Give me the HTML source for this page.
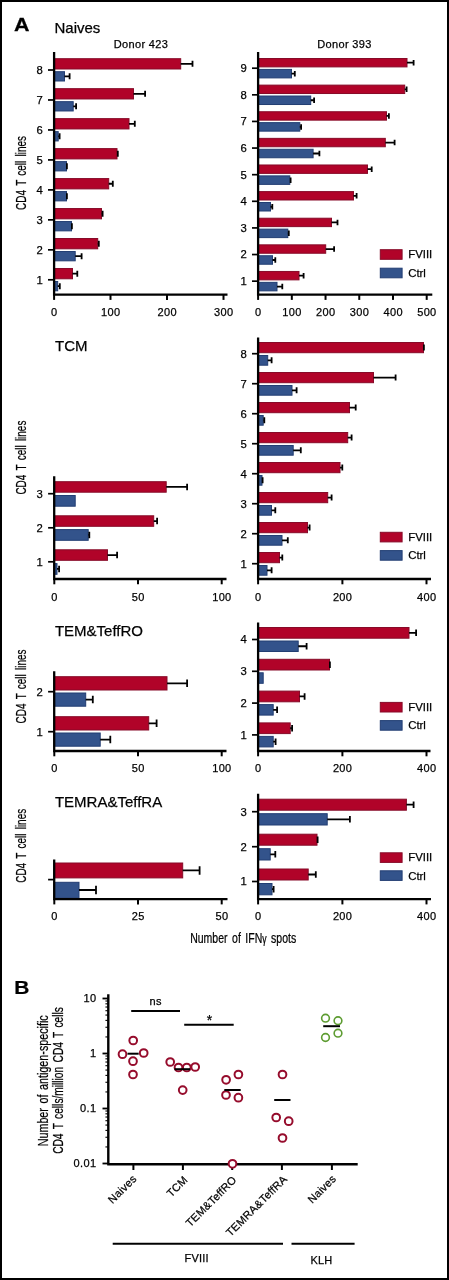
<!DOCTYPE html>
<html><head><meta charset="utf-8"><title>Figure</title>
<style>
html,body{margin:0;padding:0;background:#fff;}
body{width:449px;height:1280px;overflow:hidden;font-family:"Liberation Sans",sans-serif;}
#fig{position:absolute;left:0;top:0;width:449px;height:1280px;box-sizing:border-box;border:2px solid #000;background:#fff;}
svg{position:absolute;left:0;top:0;will-change:transform;opacity:0.999;}
text{font-family:"Liberation Sans",sans-serif;fill:#000;stroke:#000;stroke-width:0.25px;}
</style></head><body>
<div id="fig"></div>
<svg width="449" height="1280" viewBox="0 0 449 1280">
<text transform="translate(14.1,31.4) scale(1.13,1)" font-size="19" font-weight="bold" stroke="#111" stroke-width="0.4">A</text>
<text x="54.5" y="32.7" font-size="15" text-anchor="start" letter-spacing="0" font-weight="normal" >Naives</text>
<text x="141" y="48.2" font-size="11" text-anchor="middle" letter-spacing="0.35" font-weight="normal" >Donor 423</text>
<text x="344.5" y="48.2" font-size="11" text-anchor="middle" letter-spacing="0.35" font-weight="normal" >Donor 393</text>
<text x="55" y="351.4" font-size="15" text-anchor="start" letter-spacing="0" font-weight="normal" >TCM</text>
<text x="54.9" y="636.4" font-size="15" text-anchor="start" letter-spacing="0" font-weight="normal" >TEM&amp;TeffRO</text>
<text x="54.9" y="807" font-size="15" text-anchor="start" letter-spacing="0" font-weight="normal" >TEMRA&amp;TeffRA</text>
<text transform="translate(25.7,172.9) rotate(-90) scale(0.688,1)" font-size="14.5" text-anchor="middle" word-spacing="2.2" stroke="#000" stroke-width="0.35">CD4 T cell lines</text>
<text transform="translate(25.7,457.6) rotate(-90) scale(0.688,1)" font-size="14.5" text-anchor="middle" word-spacing="2.2" stroke="#000" stroke-width="0.35">CD4 T cell lines</text>
<text transform="translate(25.7,686.4) rotate(-90) scale(0.688,1)" font-size="14.5" text-anchor="middle" word-spacing="2.2" stroke="#000" stroke-width="0.35">CD4 T cell lines</text>
<text transform="translate(25.7,845.8) rotate(-90) scale(0.688,1)" font-size="14.5" text-anchor="middle" word-spacing="2.2" stroke="#000" stroke-width="0.35">CD4 T cell lines</text>
<text transform="translate(243.2,942.8) rotate(0) scale(0.725,1)" font-size="14.5" text-anchor="middle" word-spacing="2.2" stroke="#000" stroke-width="0.35">Number of IFN<tspan font-size="12">&#947;</tspan> spots</text>
<rect x="54.1" y="58.7" width="126.60" height="10.30" fill="#b10329" stroke="#870a28" stroke-width="1"/>
<path d="M180.7 63.85H193.4M192.5 60.85V66.85" stroke="#000" stroke-width="1.8" fill="none"/>
<rect x="54.1" y="71.7" width="10.40" height="9.30" fill="#33538b" stroke="#223e73" stroke-width="1"/>
<path d="M64.5 76.35H70.5M69.6 73.35V79.35" stroke="#000" stroke-width="1.8" fill="none"/>
<rect x="54.1" y="88.67" width="79.40" height="10.30" fill="#b10329" stroke="#870a28" stroke-width="1"/>
<path d="M133.5 93.82H146M145.1 90.82V96.82" stroke="#000" stroke-width="1.8" fill="none"/>
<rect x="54.1" y="101.67" width="19.10" height="9.30" fill="#33538b" stroke="#223e73" stroke-width="1"/>
<path d="M73.2 106.32H77M76.1 103.32V109.32" stroke="#000" stroke-width="1.8" fill="none"/>
<rect x="54.1" y="118.64" width="74.90" height="10.30" fill="#b10329" stroke="#870a28" stroke-width="1"/>
<path d="M129.0 123.78999999999999H135.7M134.79999999999998 120.78999999999999V126.78999999999999" stroke="#000" stroke-width="1.8" fill="none"/>
<rect x="54.1" y="131.64" width="4.10" height="9.30" fill="#33538b" stroke="#223e73" stroke-width="1"/>
<path d="M58.2 136.29H60.5M59.6 133.29V139.29" stroke="#000" stroke-width="1.8" fill="none"/>
<rect x="54.1" y="148.60999999999999" width="62.90" height="10.30" fill="#b10329" stroke="#870a28" stroke-width="1"/>
<path d="M117.0 153.76H118.7M117.8 150.76V156.76" stroke="#000" stroke-width="1.8" fill="none"/>
<rect x="54.1" y="161.60999999999999" width="12.40" height="9.30" fill="#33538b" stroke="#223e73" stroke-width="1"/>
<path d="M66.5 166.26H67.8M66.89999999999999 163.26V169.26" stroke="#000" stroke-width="1.8" fill="none"/>
<rect x="54.1" y="178.57999999999998" width="54.60" height="10.30" fill="#b10329" stroke="#870a28" stroke-width="1"/>
<path d="M108.7 183.73H113.7M112.8 180.73V186.73" stroke="#000" stroke-width="1.8" fill="none"/>
<rect x="54.1" y="191.57999999999998" width="12.40" height="9.30" fill="#33538b" stroke="#223e73" stroke-width="1"/>
<path d="M66.5 196.23H67.8M66.89999999999999 193.23V199.23" stroke="#000" stroke-width="1.8" fill="none"/>
<rect x="54.1" y="208.54999999999998" width="47.40" height="10.30" fill="#b10329" stroke="#870a28" stroke-width="1"/>
<path d="M101.5 213.7H103.5M102.6 210.7V216.7" stroke="#000" stroke-width="1.8" fill="none"/>
<rect x="54.1" y="221.54999999999998" width="17.40" height="9.30" fill="#33538b" stroke="#223e73" stroke-width="1"/>
<path d="M71.5 226.2H72.8M71.89999999999999 223.2V229.2" stroke="#000" stroke-width="1.8" fill="none"/>
<rect x="54.1" y="238.51999999999998" width="43.60" height="10.30" fill="#b10329" stroke="#870a28" stroke-width="1"/>
<path d="M97.7 243.67H99.7M98.8 240.67V246.67" stroke="#000" stroke-width="1.8" fill="none"/>
<rect x="54.1" y="251.51999999999998" width="21.10" height="9.30" fill="#33538b" stroke="#223e73" stroke-width="1"/>
<path d="M75.2 256.17H82.5M81.6 253.17000000000002V259.17" stroke="#000" stroke-width="1.8" fill="none"/>
<rect x="54.1" y="268.48999999999995" width="18.40" height="10.30" fill="#b10329" stroke="#870a28" stroke-width="1"/>
<path d="M72.5 273.64H78.2M77.3 270.64V276.64" stroke="#000" stroke-width="1.8" fill="none"/>
<rect x="54.1" y="281.48999999999995" width="3.60" height="9.30" fill="#33538b" stroke="#223e73" stroke-width="1"/>
<path d="M57.7 286.14H60.7M59.800000000000004 283.14V289.14" stroke="#000" stroke-width="1.8" fill="none"/>
<path d="M54.1 52V295.8M53.0 294.6H227.5" stroke="#000" stroke-width="2.3" fill="none"/>
<path d="M54.1 294.6V299.90000000000003" stroke="#000" stroke-width="2"/>
<text x="54.300000000000004" y="316" font-size="11" text-anchor="middle" letter-spacing="0.35" font-weight="normal" >0</text>
<path d="M110.5 294.6V299.90000000000003" stroke="#000" stroke-width="2"/>
<text x="110.7" y="316" font-size="11" text-anchor="middle" letter-spacing="0.35" font-weight="normal" >100</text>
<path d="M167 294.6V299.90000000000003" stroke="#000" stroke-width="2"/>
<text x="167.2" y="316" font-size="11" text-anchor="middle" letter-spacing="0.35" font-weight="normal" >200</text>
<path d="M223.5 294.6V299.90000000000003" stroke="#000" stroke-width="2"/>
<text x="223.7" y="316" font-size="11" text-anchor="middle" letter-spacing="0.35" font-weight="normal" >300</text>
<path d="M48.0 70.0H54.1" stroke="#000" stroke-width="1.7"/>
<text x="42.7" y="73.95" font-size="11.3" text-anchor="end" letter-spacing="0" font-weight="normal" >8</text>
<path d="M48.0 99.97H54.1" stroke="#000" stroke-width="1.7"/>
<text x="42.7" y="103.92" font-size="11.3" text-anchor="end" letter-spacing="0" font-weight="normal" >7</text>
<path d="M48.0 129.94H54.1" stroke="#000" stroke-width="1.7"/>
<text x="42.7" y="133.89" font-size="11.3" text-anchor="end" letter-spacing="0" font-weight="normal" >6</text>
<path d="M48.0 159.91H54.1" stroke="#000" stroke-width="1.7"/>
<text x="42.7" y="163.85999999999999" font-size="11.3" text-anchor="end" letter-spacing="0" font-weight="normal" >5</text>
<path d="M48.0 189.88H54.1" stroke="#000" stroke-width="1.7"/>
<text x="42.7" y="193.82999999999998" font-size="11.3" text-anchor="end" letter-spacing="0" font-weight="normal" >4</text>
<path d="M48.0 219.85H54.1" stroke="#000" stroke-width="1.7"/>
<text x="42.7" y="223.79999999999998" font-size="11.3" text-anchor="end" letter-spacing="0" font-weight="normal" >3</text>
<path d="M48.0 249.82H54.1" stroke="#000" stroke-width="1.7"/>
<text x="42.7" y="253.76999999999998" font-size="11.3" text-anchor="end" letter-spacing="0" font-weight="normal" >2</text>
<path d="M48.0 279.78999999999996H54.1" stroke="#000" stroke-width="1.7"/>
<text x="42.7" y="283.73999999999995" font-size="11.3" text-anchor="end" letter-spacing="0" font-weight="normal" >1</text>
<rect x="258.1" y="58.5" width="148.90" height="8.40" fill="#b10329" stroke="#870a28" stroke-width="1"/>
<path d="M407.0 62.7H414.5M413.6 59.95V65.45" stroke="#000" stroke-width="1.8" fill="none"/>
<rect x="258.1" y="69.4" width="33.40" height="8.50" fill="#33538b" stroke="#223e73" stroke-width="1"/>
<path d="M291.5 73.65H295.7M294.8 70.9V76.4" stroke="#000" stroke-width="1.8" fill="none"/>
<rect x="258.1" y="85.12" width="146.60" height="8.40" fill="#b10329" stroke="#870a28" stroke-width="1"/>
<path d="M404.7 89.32000000000001H407.5M406.6 86.57000000000001V92.07000000000001" stroke="#000" stroke-width="1.8" fill="none"/>
<rect x="258.1" y="96.02000000000001" width="52.60" height="8.50" fill="#33538b" stroke="#223e73" stroke-width="1"/>
<path d="M310.7 100.27000000000001H315M314.1 97.52000000000001V103.02000000000001" stroke="#000" stroke-width="1.8" fill="none"/>
<rect x="258.1" y="111.74" width="128.40" height="8.40" fill="#b10329" stroke="#870a28" stroke-width="1"/>
<path d="M386.5 115.94H389.8M388.90000000000003 113.19V118.69" stroke="#000" stroke-width="1.8" fill="none"/>
<rect x="258.1" y="122.64" width="41.70" height="8.50" fill="#33538b" stroke="#223e73" stroke-width="1"/>
<path d="M299.8 126.89H302M301.1 124.14V129.64" stroke="#000" stroke-width="1.8" fill="none"/>
<rect x="258.1" y="138.36" width="127.20" height="8.40" fill="#b10329" stroke="#870a28" stroke-width="1"/>
<path d="M385.3 142.56H395.5M394.6 139.81V145.31" stroke="#000" stroke-width="1.8" fill="none"/>
<rect x="258.1" y="149.26" width="55.00" height="8.50" fill="#33538b" stroke="#223e73" stroke-width="1"/>
<path d="M313.1 153.51H320.3M319.40000000000003 150.76V156.26" stroke="#000" stroke-width="1.8" fill="none"/>
<rect x="258.1" y="164.98000000000002" width="109.40" height="8.40" fill="#b10329" stroke="#870a28" stroke-width="1"/>
<path d="M367.5 169.18H372.6M371.70000000000005 166.43V171.93" stroke="#000" stroke-width="1.8" fill="none"/>
<rect x="258.1" y="175.88" width="31.70" height="8.50" fill="#33538b" stroke="#223e73" stroke-width="1"/>
<path d="M289.8 180.13H291.5M290.6 177.38V182.88" stroke="#000" stroke-width="1.8" fill="none"/>
<rect x="258.1" y="191.60000000000002" width="95.40" height="8.40" fill="#b10329" stroke="#870a28" stroke-width="1"/>
<path d="M353.5 195.8H357.5M356.6 193.05V198.55" stroke="#000" stroke-width="1.8" fill="none"/>
<rect x="258.1" y="202.5" width="12.40" height="8.50" fill="#33538b" stroke="#223e73" stroke-width="1"/>
<path d="M270.5 206.75H273.2M272.3 204.0V209.5" stroke="#000" stroke-width="1.8" fill="none"/>
<rect x="258.1" y="218.22000000000003" width="73.40" height="8.40" fill="#b10329" stroke="#870a28" stroke-width="1"/>
<path d="M331.5 222.42000000000002H338.4M337.5 219.67000000000002V225.17000000000002" stroke="#000" stroke-width="1.8" fill="none"/>
<rect x="258.1" y="229.12" width="29.70" height="8.50" fill="#33538b" stroke="#223e73" stroke-width="1"/>
<path d="M287.8 233.37H289.7M288.8 230.62V236.12" stroke="#000" stroke-width="1.8" fill="none"/>
<rect x="258.1" y="244.84000000000003" width="67.60" height="8.40" fill="#b10329" stroke="#870a28" stroke-width="1"/>
<path d="M325.7 249.04000000000002H335M334.1 246.29000000000002V251.79000000000002" stroke="#000" stroke-width="1.8" fill="none"/>
<rect x="258.1" y="255.74" width="14.40" height="8.50" fill="#33538b" stroke="#223e73" stroke-width="1"/>
<path d="M272.5 259.99H276.2M275.3 257.24V262.74" stroke="#000" stroke-width="1.8" fill="none"/>
<rect x="258.1" y="271.46000000000004" width="40.90" height="8.40" fill="#b10329" stroke="#870a28" stroke-width="1"/>
<path d="M299.0 275.66H304.5M303.6 272.91V278.41" stroke="#000" stroke-width="1.8" fill="none"/>
<rect x="258.1" y="282.36" width="18.90" height="8.50" fill="#33538b" stroke="#223e73" stroke-width="1"/>
<path d="M277.0 286.61H283.2M282.3 283.86V289.36" stroke="#000" stroke-width="1.8" fill="none"/>
<path d="M258.1 52V295.8M257.0 294.6H432.3" stroke="#000" stroke-width="2.3" fill="none"/>
<path d="M258.1 294.6V299.90000000000003" stroke="#000" stroke-width="2"/>
<text x="258.3" y="316" font-size="11" text-anchor="middle" letter-spacing="0.35" font-weight="normal" >0</text>
<path d="M291.82000000000005 294.6V299.90000000000003" stroke="#000" stroke-width="2"/>
<text x="292.02000000000004" y="316" font-size="11" text-anchor="middle" letter-spacing="0.35" font-weight="normal" >100</text>
<path d="M325.54 294.6V299.90000000000003" stroke="#000" stroke-width="2"/>
<text x="325.74" y="316" font-size="11" text-anchor="middle" letter-spacing="0.35" font-weight="normal" >200</text>
<path d="M359.26 294.6V299.90000000000003" stroke="#000" stroke-width="2"/>
<text x="359.46" y="316" font-size="11" text-anchor="middle" letter-spacing="0.35" font-weight="normal" >300</text>
<path d="M392.98 294.6V299.90000000000003" stroke="#000" stroke-width="2"/>
<text x="393.18" y="316" font-size="11" text-anchor="middle" letter-spacing="0.35" font-weight="normal" >400</text>
<path d="M426.70000000000005 294.6V299.90000000000003" stroke="#000" stroke-width="2"/>
<text x="426.90000000000003" y="316" font-size="11" text-anchor="middle" letter-spacing="0.35" font-weight="normal" >500</text>
<path d="M252.00000000000003 68.2H258.1" stroke="#000" stroke-width="1.7"/>
<text x="246.70000000000002" y="72.15" font-size="11.3" text-anchor="end" letter-spacing="0" font-weight="normal" >9</text>
<path d="M252.00000000000003 94.82000000000001H258.1" stroke="#000" stroke-width="1.7"/>
<text x="246.70000000000002" y="98.77000000000001" font-size="11.3" text-anchor="end" letter-spacing="0" font-weight="normal" >8</text>
<path d="M252.00000000000003 121.44H258.1" stroke="#000" stroke-width="1.7"/>
<text x="246.70000000000002" y="125.39" font-size="11.3" text-anchor="end" letter-spacing="0" font-weight="normal" >7</text>
<path d="M252.00000000000003 148.06H258.1" stroke="#000" stroke-width="1.7"/>
<text x="246.70000000000002" y="152.01" font-size="11.3" text-anchor="end" letter-spacing="0" font-weight="normal" >6</text>
<path d="M252.00000000000003 174.68H258.1" stroke="#000" stroke-width="1.7"/>
<text x="246.70000000000002" y="178.63" font-size="11.3" text-anchor="end" letter-spacing="0" font-weight="normal" >5</text>
<path d="M252.00000000000003 201.3H258.1" stroke="#000" stroke-width="1.7"/>
<text x="246.70000000000002" y="205.25" font-size="11.3" text-anchor="end" letter-spacing="0" font-weight="normal" >4</text>
<path d="M252.00000000000003 227.92000000000002H258.1" stroke="#000" stroke-width="1.7"/>
<text x="246.70000000000002" y="231.87" font-size="11.3" text-anchor="end" letter-spacing="0" font-weight="normal" >3</text>
<path d="M252.00000000000003 254.54000000000002H258.1" stroke="#000" stroke-width="1.7"/>
<text x="246.70000000000002" y="258.49" font-size="11.3" text-anchor="end" letter-spacing="0" font-weight="normal" >2</text>
<path d="M252.00000000000003 281.16H258.1" stroke="#000" stroke-width="1.7"/>
<text x="246.70000000000002" y="285.11" font-size="11.3" text-anchor="end" letter-spacing="0" font-weight="normal" >1</text>
<rect x="380.3" y="249.7" width="21.8" height="9.6" fill="#b10329" stroke="#870a28"/>
<rect x="380.3" y="268.2" width="21.8" height="9.6" fill="#33538b" stroke="#223e73"/>
<text x="408.2" y="258.09999999999997" font-size="11.4" text-anchor="start" letter-spacing="0" font-weight="normal" >FVIII</text>
<text x="408.2" y="276.9" font-size="11.4" text-anchor="start" letter-spacing="0" font-weight="normal" >Ctrl</text>
<rect x="54.2" y="481.7" width="112.00" height="10.50" fill="#b10329" stroke="#870a28" stroke-width="1"/>
<path d="M166.2 486.95H188M187.1 483.7V490.2" stroke="#000" stroke-width="1.8" fill="none"/>
<rect x="54.2" y="495.5" width="21.00" height="10.70" fill="#33538b" stroke="#223e73" stroke-width="1"/>
<rect x="54.2" y="515.8" width="99.50" height="10.50" fill="#b10329" stroke="#870a28" stroke-width="1"/>
<path d="M153.7 521.05H158M157.1 517.8V524.3" stroke="#000" stroke-width="1.8" fill="none"/>
<rect x="54.2" y="529.5999999999999" width="34.00" height="10.70" fill="#33538b" stroke="#223e73" stroke-width="1"/>
<path d="M88.2 534.9499999999999H90.2M89.3 531.6999999999999V538.1999999999999" stroke="#000" stroke-width="1.8" fill="none"/>
<rect x="54.2" y="549.8" width="53.30" height="10.50" fill="#b10329" stroke="#870a28" stroke-width="1"/>
<path d="M107.5 555.05H118M117.1 551.8V558.3" stroke="#000" stroke-width="1.8" fill="none"/>
<rect x="54.2" y="563.5999999999999" width="2.80" height="10.70" fill="#33538b" stroke="#223e73" stroke-width="1"/>
<path d="M57.0 568.9499999999999H60M59.1 565.6999999999999V572.1999999999999" stroke="#000" stroke-width="1.8" fill="none"/>
<path d="M54.2 476.2V580.2M53.1 579.0H226.5" stroke="#000" stroke-width="2.3" fill="none"/>
<path d="M54.3 579.0V584.3" stroke="#000" stroke-width="2"/>
<text x="54.5" y="600.6" font-size="11" text-anchor="middle" letter-spacing="0.35" font-weight="normal" >0</text>
<path d="M138 579.0V584.3" stroke="#000" stroke-width="2"/>
<text x="138.2" y="600.6" font-size="11" text-anchor="middle" letter-spacing="0.35" font-weight="normal" >50</text>
<path d="M221.7 579.0V584.3" stroke="#000" stroke-width="2"/>
<text x="221.89999999999998" y="600.6" font-size="11" text-anchor="middle" letter-spacing="0.35" font-weight="normal" >100</text>
<path d="M48.1 493.7H54.2" stroke="#000" stroke-width="1.7"/>
<text x="42.800000000000004" y="497.65" font-size="11.3" text-anchor="end" letter-spacing="0" font-weight="normal" >3</text>
<path d="M48.1 527.8H54.2" stroke="#000" stroke-width="1.7"/>
<text x="42.800000000000004" y="531.75" font-size="11.3" text-anchor="end" letter-spacing="0" font-weight="normal" >2</text>
<path d="M48.1 561.8H54.2" stroke="#000" stroke-width="1.7"/>
<text x="42.800000000000004" y="565.75" font-size="11.3" text-anchor="end" letter-spacing="0" font-weight="normal" >1</text>
<rect x="258.1" y="342.5" width="165.40" height="10.20" fill="#b10329" stroke="#870a28" stroke-width="1"/>
<path d="M423.5 347.59999999999997H424.8M423.90000000000003 344.59999999999997V350.59999999999997" stroke="#000" stroke-width="1.8" fill="none"/>
<rect x="258.1" y="355.5" width="9.60" height="9.70" fill="#33538b" stroke="#223e73" stroke-width="1"/>
<path d="M267.7 360.34999999999997H272.5M271.6 357.34999999999997V363.34999999999997" stroke="#000" stroke-width="1.8" fill="none"/>
<rect x="258.1" y="372.5" width="115.40" height="10.20" fill="#b10329" stroke="#870a28" stroke-width="1"/>
<path d="M373.5 377.59999999999997H396.5M395.6 374.59999999999997V380.59999999999997" stroke="#000" stroke-width="1.8" fill="none"/>
<rect x="258.1" y="385.5" width="33.90" height="9.70" fill="#33538b" stroke="#223e73" stroke-width="1"/>
<path d="M292.0 390.34999999999997H297.5M296.6 387.34999999999997V393.34999999999997" stroke="#000" stroke-width="1.8" fill="none"/>
<rect x="258.1" y="402.5" width="91.40" height="10.20" fill="#b10329" stroke="#870a28" stroke-width="1"/>
<path d="M349.5 407.59999999999997H356.6M355.70000000000005 404.59999999999997V410.59999999999997" stroke="#000" stroke-width="1.8" fill="none"/>
<rect x="258.1" y="415.5" width="5.10" height="9.70" fill="#33538b" stroke="#223e73" stroke-width="1"/>
<path d="M263.2 420.34999999999997H265.2M264.3 417.34999999999997V423.34999999999997" stroke="#000" stroke-width="1.8" fill="none"/>
<rect x="258.1" y="432.5" width="89.60" height="10.20" fill="#b10329" stroke="#870a28" stroke-width="1"/>
<path d="M347.7 437.59999999999997H352.5M351.6 434.59999999999997V440.59999999999997" stroke="#000" stroke-width="1.8" fill="none"/>
<rect x="258.1" y="445.5" width="35.10" height="9.70" fill="#33538b" stroke="#223e73" stroke-width="1"/>
<path d="M293.2 450.34999999999997H301.7M300.8 447.34999999999997V453.34999999999997" stroke="#000" stroke-width="1.8" fill="none"/>
<rect x="258.1" y="462.5" width="81.90" height="10.20" fill="#b10329" stroke="#870a28" stroke-width="1"/>
<path d="M340.0 467.59999999999997H343.2M342.3 464.59999999999997V470.59999999999997" stroke="#000" stroke-width="1.8" fill="none"/>
<rect x="258.1" y="475.5" width="3.90" height="9.70" fill="#33538b" stroke="#223e73" stroke-width="1"/>
<path d="M262.0 480.34999999999997H263.5M262.6 477.34999999999997V483.34999999999997" stroke="#000" stroke-width="1.8" fill="none"/>
<rect x="258.1" y="492.5" width="69.60" height="10.20" fill="#b10329" stroke="#870a28" stroke-width="1"/>
<path d="M327.7 497.59999999999997H332.5M331.6 494.59999999999997V500.59999999999997" stroke="#000" stroke-width="1.8" fill="none"/>
<rect x="258.1" y="505.5" width="13.40" height="9.70" fill="#33538b" stroke="#223e73" stroke-width="1"/>
<path d="M271.5 510.34999999999997H276.2M275.3 507.34999999999997V513.3499999999999" stroke="#000" stroke-width="1.8" fill="none"/>
<rect x="258.1" y="522.5" width="49.40" height="10.20" fill="#b10329" stroke="#870a28" stroke-width="1"/>
<path d="M307.5 527.6H310.5M309.6 524.6V530.6" stroke="#000" stroke-width="1.8" fill="none"/>
<rect x="258.1" y="535.5" width="23.90" height="9.70" fill="#33538b" stroke="#223e73" stroke-width="1"/>
<path d="M282.0 540.35H288.7M287.8 537.35V543.35" stroke="#000" stroke-width="1.8" fill="none"/>
<rect x="258.1" y="552.5" width="21.40" height="10.20" fill="#b10329" stroke="#870a28" stroke-width="1"/>
<path d="M279.5 557.6H283.2M282.3 554.6V560.6" stroke="#000" stroke-width="1.8" fill="none"/>
<rect x="258.1" y="565.5" width="8.90" height="9.70" fill="#33538b" stroke="#223e73" stroke-width="1"/>
<path d="M267.0 570.35H272.5M271.6 567.35V573.35" stroke="#000" stroke-width="1.8" fill="none"/>
<path d="M258.1 337.5V580.2M257.0 579.0H431" stroke="#000" stroke-width="2.3" fill="none"/>
<path d="M258.1 579.0V584.3" stroke="#000" stroke-width="2"/>
<text x="258.3" y="600.6" font-size="11" text-anchor="middle" letter-spacing="0.35" font-weight="normal" >0</text>
<path d="M342.4 579.0V584.3" stroke="#000" stroke-width="2"/>
<text x="342.59999999999997" y="600.6" font-size="11" text-anchor="middle" letter-spacing="0.35" font-weight="normal" >200</text>
<path d="M426.5 579.0V584.3" stroke="#000" stroke-width="2"/>
<text x="426.7" y="600.6" font-size="11" text-anchor="middle" letter-spacing="0.35" font-weight="normal" >400</text>
<path d="M252.00000000000003 353.7H258.1" stroke="#000" stroke-width="1.7"/>
<text x="246.70000000000002" y="357.65" font-size="11.3" text-anchor="end" letter-spacing="0" font-weight="normal" >8</text>
<path d="M252.00000000000003 383.7H258.1" stroke="#000" stroke-width="1.7"/>
<text x="246.70000000000002" y="387.65" font-size="11.3" text-anchor="end" letter-spacing="0" font-weight="normal" >7</text>
<path d="M252.00000000000003 413.7H258.1" stroke="#000" stroke-width="1.7"/>
<text x="246.70000000000002" y="417.65" font-size="11.3" text-anchor="end" letter-spacing="0" font-weight="normal" >6</text>
<path d="M252.00000000000003 443.7H258.1" stroke="#000" stroke-width="1.7"/>
<text x="246.70000000000002" y="447.65" font-size="11.3" text-anchor="end" letter-spacing="0" font-weight="normal" >5</text>
<path d="M252.00000000000003 473.7H258.1" stroke="#000" stroke-width="1.7"/>
<text x="246.70000000000002" y="477.65" font-size="11.3" text-anchor="end" letter-spacing="0" font-weight="normal" >4</text>
<path d="M252.00000000000003 503.7H258.1" stroke="#000" stroke-width="1.7"/>
<text x="246.70000000000002" y="507.65" font-size="11.3" text-anchor="end" letter-spacing="0" font-weight="normal" >3</text>
<path d="M252.00000000000003 533.7H258.1" stroke="#000" stroke-width="1.7"/>
<text x="246.70000000000002" y="537.6500000000001" font-size="11.3" text-anchor="end" letter-spacing="0" font-weight="normal" >2</text>
<path d="M252.00000000000003 563.7H258.1" stroke="#000" stroke-width="1.7"/>
<text x="246.70000000000002" y="567.6500000000001" font-size="11.3" text-anchor="end" letter-spacing="0" font-weight="normal" >1</text>
<rect x="380.3" y="532.3" width="21.8" height="9.6" fill="#b10329" stroke="#870a28"/>
<rect x="380.3" y="550.6" width="21.8" height="9.6" fill="#33538b" stroke="#223e73"/>
<text x="408.2" y="540.6999999999999" font-size="11.4" text-anchor="start" letter-spacing="0" font-weight="normal" >FVIII</text>
<text x="408.2" y="559.3000000000001" font-size="11.4" text-anchor="start" letter-spacing="0" font-weight="normal" >Ctrl</text>
<rect x="54.2" y="676.7" width="112.80" height="13.30" fill="#b10329" stroke="#870a28" stroke-width="1"/>
<path d="M167.0 683.35H188M187.1 679.6V687.1" stroke="#000" stroke-width="1.8" fill="none"/>
<rect x="54.2" y="693.0" width="31.50" height="13.20" fill="#33538b" stroke="#223e73" stroke-width="1"/>
<path d="M85.7 699.6H93.7M92.8 695.85V703.35" stroke="#000" stroke-width="1.8" fill="none"/>
<rect x="54.2" y="716.7" width="94.50" height="13.30" fill="#b10329" stroke="#870a28" stroke-width="1"/>
<path d="M148.7 723.35H157.5M156.6 719.6V727.1" stroke="#000" stroke-width="1.8" fill="none"/>
<rect x="54.2" y="733.0" width="46.00" height="13.20" fill="#33538b" stroke="#223e73" stroke-width="1"/>
<path d="M100.2 739.6H111.2M110.3 735.85V743.35" stroke="#000" stroke-width="1.8" fill="none"/>
<path d="M54.2 671.2V752.2M53.1 751.0H226.5" stroke="#000" stroke-width="2.3" fill="none"/>
<path d="M54.3 751.0V756.3" stroke="#000" stroke-width="2"/>
<text x="54.5" y="771.7" font-size="11" text-anchor="middle" letter-spacing="0.35" font-weight="normal" >0</text>
<path d="M138 751.0V756.3" stroke="#000" stroke-width="2"/>
<text x="138.2" y="771.7" font-size="11" text-anchor="middle" letter-spacing="0.35" font-weight="normal" >50</text>
<path d="M221.7 751.0V756.3" stroke="#000" stroke-width="2"/>
<text x="221.89999999999998" y="771.7" font-size="11" text-anchor="middle" letter-spacing="0.35" font-weight="normal" >100</text>
<path d="M48.1 691.7H54.2" stroke="#000" stroke-width="1.7"/>
<text x="42.800000000000004" y="695.6500000000001" font-size="11.3" text-anchor="end" letter-spacing="0" font-weight="normal" >2</text>
<path d="M48.1 731.7H54.2" stroke="#000" stroke-width="1.7"/>
<text x="42.800000000000004" y="735.6500000000001" font-size="11.3" text-anchor="end" letter-spacing="0" font-weight="normal" >1</text>
<rect x="258.1" y="627.5" width="150.90" height="10.70" fill="#b10329" stroke="#870a28" stroke-width="1"/>
<path d="M409.0 632.85H417M416.1 629.6V636.1" stroke="#000" stroke-width="1.8" fill="none"/>
<rect x="258.1" y="641.0" width="40.10" height="10.50" fill="#33538b" stroke="#223e73" stroke-width="1"/>
<path d="M298.2 646.25H307.5M306.6 643.0V649.5" stroke="#000" stroke-width="1.8" fill="none"/>
<rect x="258.1" y="659.3" width="71.40" height="10.70" fill="#b10329" stroke="#870a28" stroke-width="1"/>
<path d="M329.5 664.65H330.8M329.90000000000003 661.4V667.9" stroke="#000" stroke-width="1.8" fill="none"/>
<rect x="258.1" y="672.8" width="5.10" height="10.50" fill="#33538b" stroke="#223e73" stroke-width="1"/>
<rect x="258.1" y="691.1" width="41.40" height="10.70" fill="#b10329" stroke="#870a28" stroke-width="1"/>
<path d="M299.5 696.45H305.5M304.6 693.2V699.7" stroke="#000" stroke-width="1.8" fill="none"/>
<rect x="258.1" y="704.6" width="15.10" height="10.50" fill="#33538b" stroke="#223e73" stroke-width="1"/>
<path d="M273.2 709.85H278M277.1 706.6V713.1" stroke="#000" stroke-width="1.8" fill="none"/>
<rect x="258.1" y="722.9" width="32.10" height="10.70" fill="#b10329" stroke="#870a28" stroke-width="1"/>
<path d="M290.2 728.25H293M292.1 725.0V731.5" stroke="#000" stroke-width="1.8" fill="none"/>
<rect x="258.1" y="736.4" width="15.10" height="10.50" fill="#33538b" stroke="#223e73" stroke-width="1"/>
<path d="M273.2 741.65H276.5M275.6 738.4V744.9" stroke="#000" stroke-width="1.8" fill="none"/>
<path d="M258.1 622.5V752.2M257.0 751.0H430.5" stroke="#000" stroke-width="2.3" fill="none"/>
<path d="M258.1 751.0V756.3" stroke="#000" stroke-width="2"/>
<text x="258.3" y="771.7" font-size="11" text-anchor="middle" letter-spacing="0.35" font-weight="normal" >0</text>
<path d="M342.4 751.0V756.3" stroke="#000" stroke-width="2"/>
<text x="342.59999999999997" y="771.7" font-size="11" text-anchor="middle" letter-spacing="0.35" font-weight="normal" >200</text>
<path d="M426.5 751.0V756.3" stroke="#000" stroke-width="2"/>
<text x="426.7" y="771.7" font-size="11" text-anchor="middle" letter-spacing="0.35" font-weight="normal" >400</text>
<path d="M252.00000000000003 639.5H258.1" stroke="#000" stroke-width="1.7"/>
<text x="246.70000000000002" y="643.45" font-size="11.3" text-anchor="end" letter-spacing="0" font-weight="normal" >4</text>
<path d="M252.00000000000003 671.3H258.1" stroke="#000" stroke-width="1.7"/>
<text x="246.70000000000002" y="675.25" font-size="11.3" text-anchor="end" letter-spacing="0" font-weight="normal" >3</text>
<path d="M252.00000000000003 703.1H258.1" stroke="#000" stroke-width="1.7"/>
<text x="246.70000000000002" y="707.0500000000001" font-size="11.3" text-anchor="end" letter-spacing="0" font-weight="normal" >2</text>
<path d="M252.00000000000003 734.9H258.1" stroke="#000" stroke-width="1.7"/>
<text x="246.70000000000002" y="738.85" font-size="11.3" text-anchor="end" letter-spacing="0" font-weight="normal" >1</text>
<rect x="380.3" y="702.4" width="21.8" height="9.6" fill="#b10329" stroke="#870a28"/>
<rect x="380.3" y="720.6" width="21.8" height="9.6" fill="#33538b" stroke="#223e73"/>
<text x="408.2" y="710.8" font-size="11.4" text-anchor="start" letter-spacing="0" font-weight="normal" >FVIII</text>
<text x="408.2" y="729.3000000000001" font-size="11.4" text-anchor="start" letter-spacing="0" font-weight="normal" >Ctrl</text>
<rect x="54.2" y="863.0" width="128.50" height="14.90" fill="#b10329" stroke="#870a28" stroke-width="1"/>
<path d="M182.7 870.45H200.5M199.6 866.2V874.7" stroke="#000" stroke-width="1.8" fill="none"/>
<rect x="54.2" y="882.3000000000001" width="24.80" height="15.40" fill="#33538b" stroke="#223e73" stroke-width="1"/>
<path d="M79.0 890.0H96.9M96.0 885.75V894.25" stroke="#000" stroke-width="1.8" fill="none"/>
<path d="M54.2 859.5V900.3000000000001M53.1 899.1H227.5" stroke="#000" stroke-width="2.3" fill="none"/>
<path d="M54.3 899.1V904.4" stroke="#000" stroke-width="2"/>
<text x="54.5" y="920" font-size="11" text-anchor="middle" letter-spacing="0.35" font-weight="normal" >0</text>
<path d="M138 899.1V904.4" stroke="#000" stroke-width="2"/>
<text x="138.2" y="920" font-size="11" text-anchor="middle" letter-spacing="0.35" font-weight="normal" >25</text>
<path d="M221.7 899.1V904.4" stroke="#000" stroke-width="2"/>
<text x="221.89999999999998" y="920" font-size="11" text-anchor="middle" letter-spacing="0.35" font-weight="normal" >50</text>
<path d="M48.1 879.6H54.2" stroke="#000" stroke-width="1.7"/>
<rect x="258.1" y="799.2" width="148.30" height="11.00" fill="#b10329" stroke="#870a28" stroke-width="1"/>
<path d="M406.4 804.7H414.5M413.6 801.45V807.95" stroke="#000" stroke-width="1.8" fill="none"/>
<rect x="258.1" y="813.7" width="69.10" height="11.30" fill="#33538b" stroke="#223e73" stroke-width="1"/>
<path d="M327.2 819.35H350.8M349.90000000000003 816.1V822.6" stroke="#000" stroke-width="1.8" fill="none"/>
<rect x="258.1" y="834.2" width="58.90" height="11.00" fill="#b10329" stroke="#870a28" stroke-width="1"/>
<path d="M317.0 839.7H318.5M317.6 836.45V842.95" stroke="#000" stroke-width="1.8" fill="none"/>
<rect x="258.1" y="848.7" width="12.10" height="11.30" fill="#33538b" stroke="#223e73" stroke-width="1"/>
<path d="M270.2 854.35H276.2M275.3 851.1V857.6" stroke="#000" stroke-width="1.8" fill="none"/>
<rect x="258.1" y="869.0" width="50.10" height="11.00" fill="#b10329" stroke="#870a28" stroke-width="1"/>
<path d="M308.2 874.5H316.7M315.8 871.25V877.75" stroke="#000" stroke-width="1.8" fill="none"/>
<rect x="258.1" y="883.5" width="13.90" height="11.30" fill="#33538b" stroke="#223e73" stroke-width="1"/>
<path d="M272.0 889.15H274.5M273.6 885.9V892.4" stroke="#000" stroke-width="1.8" fill="none"/>
<path d="M258.1 793.7V900.3000000000001M257.0 899.1H431" stroke="#000" stroke-width="2.3" fill="none"/>
<path d="M258.1 899.1V904.4" stroke="#000" stroke-width="2"/>
<text x="258.3" y="920" font-size="11" text-anchor="middle" letter-spacing="0.35" font-weight="normal" >0</text>
<path d="M342.4 899.1V904.4" stroke="#000" stroke-width="2"/>
<text x="342.59999999999997" y="920" font-size="11" text-anchor="middle" letter-spacing="0.35" font-weight="normal" >200</text>
<path d="M426.5 899.1V904.4" stroke="#000" stroke-width="2"/>
<text x="426.7" y="920" font-size="11" text-anchor="middle" letter-spacing="0.35" font-weight="normal" >400</text>
<path d="M252.00000000000003 811.7H258.1" stroke="#000" stroke-width="1.7"/>
<text x="246.70000000000002" y="815.6500000000001" font-size="11.3" text-anchor="end" letter-spacing="0" font-weight="normal" >3</text>
<path d="M252.00000000000003 846.7H258.1" stroke="#000" stroke-width="1.7"/>
<text x="246.70000000000002" y="850.6500000000001" font-size="11.3" text-anchor="end" letter-spacing="0" font-weight="normal" >2</text>
<path d="M252.00000000000003 881.5H258.1" stroke="#000" stroke-width="1.7"/>
<text x="246.70000000000002" y="885.45" font-size="11.3" text-anchor="end" letter-spacing="0" font-weight="normal" >1</text>
<rect x="380.3" y="852.8" width="21.8" height="9.6" fill="#b10329" stroke="#870a28"/>
<rect x="380.3" y="870.8" width="21.8" height="9.6" fill="#33538b" stroke="#223e73"/>
<text x="408.2" y="861.1999999999999" font-size="11.4" text-anchor="start" letter-spacing="0" font-weight="normal" >FVIII</text>
<text x="408.2" y="879.5" font-size="11.4" text-anchor="start" letter-spacing="0" font-weight="normal" >Ctrl</text>
<text transform="translate(14.2,993.5) scale(1.1,1)" font-size="19" font-weight="bold" stroke="#111" stroke-width="0.4">B</text>
<text transform="translate(48.0,1080.8) rotate(-90) scale(0.741,1)" font-size="14.5" text-anchor="middle" word-spacing="2.2" stroke="#000" stroke-width="0.35">Number of antigen-specific</text>
<text transform="translate(62.6,1080.5) rotate(-90) scale(0.703,1)" font-size="14.5" text-anchor="middle" word-spacing="2.2" stroke="#000" stroke-width="0.35">CD4 T cells/million CD4 T cells</text>
<path d="M108.3 994.2V1164.6M107.2 1164.3H357.7" stroke="#000" stroke-width="2.4" fill="none"/>
<path d="M102.5 998.5H108.3" stroke="#000" stroke-width="1.8"/>
<text x="96.4" y="1002.2" font-size="11" text-anchor="end" letter-spacing="0.35" font-weight="normal" >10</text>
<path d="M102.5 1053.5H108.3" stroke="#000" stroke-width="1.8"/>
<text x="96.4" y="1057.2" font-size="11" text-anchor="end" letter-spacing="0.35" font-weight="normal" >1</text>
<path d="M102.5 1108.5H108.3" stroke="#000" stroke-width="1.8"/>
<text x="96.4" y="1112.2" font-size="11" text-anchor="end" letter-spacing="0.35" font-weight="normal" >0.1</text>
<path d="M102.5 1163.5H108.3" stroke="#000" stroke-width="1.8"/>
<text x="96.4" y="1167.2" font-size="11" text-anchor="end" letter-spacing="0.35" font-weight="normal" >0.01</text>
<path d="M105.39999999999999 1036.94H108.3" stroke="#000" stroke-width="1.1"/>
<path d="M105.39999999999999 1027.26H108.3" stroke="#000" stroke-width="1.1"/>
<path d="M105.39999999999999 1020.39H108.3" stroke="#000" stroke-width="1.1"/>
<path d="M105.39999999999999 1015.06H108.3" stroke="#000" stroke-width="1.1"/>
<path d="M105.39999999999999 1010.70H108.3" stroke="#000" stroke-width="1.1"/>
<path d="M105.39999999999999 1007.02H108.3" stroke="#000" stroke-width="1.1"/>
<path d="M105.39999999999999 1003.83H108.3" stroke="#000" stroke-width="1.1"/>
<path d="M105.39999999999999 1001.02H108.3" stroke="#000" stroke-width="1.1"/>
<path d="M105.39999999999999 1091.94H108.3" stroke="#000" stroke-width="1.1"/>
<path d="M105.39999999999999 1082.26H108.3" stroke="#000" stroke-width="1.1"/>
<path d="M105.39999999999999 1075.39H108.3" stroke="#000" stroke-width="1.1"/>
<path d="M105.39999999999999 1070.06H108.3" stroke="#000" stroke-width="1.1"/>
<path d="M105.39999999999999 1065.70H108.3" stroke="#000" stroke-width="1.1"/>
<path d="M105.39999999999999 1062.02H108.3" stroke="#000" stroke-width="1.1"/>
<path d="M105.39999999999999 1058.83H108.3" stroke="#000" stroke-width="1.1"/>
<path d="M105.39999999999999 1056.02H108.3" stroke="#000" stroke-width="1.1"/>
<path d="M105.39999999999999 1146.94H108.3" stroke="#000" stroke-width="1.1"/>
<path d="M105.39999999999999 1137.26H108.3" stroke="#000" stroke-width="1.1"/>
<path d="M105.39999999999999 1130.39H108.3" stroke="#000" stroke-width="1.1"/>
<path d="M105.39999999999999 1125.06H108.3" stroke="#000" stroke-width="1.1"/>
<path d="M105.39999999999999 1120.70H108.3" stroke="#000" stroke-width="1.1"/>
<path d="M105.39999999999999 1117.02H108.3" stroke="#000" stroke-width="1.1"/>
<path d="M105.39999999999999 1113.83H108.3" stroke="#000" stroke-width="1.1"/>
<path d="M105.39999999999999 1111.02H108.3" stroke="#000" stroke-width="1.1"/>
<path d="M133.4 1164V1170" stroke="#000" stroke-width="2"/>
<path d="M182.9 1164V1170" stroke="#000" stroke-width="2"/>
<path d="M232.2 1164V1170" stroke="#000" stroke-width="2"/>
<path d="M281.9 1164V1170" stroke="#000" stroke-width="2"/>
<path d="M331.9 1164V1170" stroke="#000" stroke-width="2"/>
<circle cx="133.2" cy="1040.5" r="3.85" fill="#fff" stroke="#960c2c" stroke-width="2.0"/>
<circle cx="122.5" cy="1054.2" r="3.85" fill="#fff" stroke="#960c2c" stroke-width="2.0"/>
<circle cx="143.7" cy="1053" r="3.85" fill="#fff" stroke="#960c2c" stroke-width="2.0"/>
<circle cx="133" cy="1061.2" r="3.85" fill="#fff" stroke="#960c2c" stroke-width="2.0"/>
<circle cx="133" cy="1074.5" r="3.85" fill="#fff" stroke="#960c2c" stroke-width="2.0"/>
<circle cx="170.2" cy="1062" r="3.85" fill="#fff" stroke="#960c2c" stroke-width="2.0"/>
<circle cx="178.5" cy="1067.5" r="3.85" fill="#fff" stroke="#960c2c" stroke-width="2.0"/>
<circle cx="186.8" cy="1067.5" r="3.85" fill="#fff" stroke="#960c2c" stroke-width="2.0"/>
<circle cx="195.2" cy="1067" r="3.85" fill="#fff" stroke="#960c2c" stroke-width="2.0"/>
<circle cx="182.7" cy="1090.1" r="3.85" fill="#fff" stroke="#960c2c" stroke-width="2.0"/>
<circle cx="238.4" cy="1074.5" r="3.85" fill="#fff" stroke="#960c2c" stroke-width="2.0"/>
<circle cx="226.1" cy="1079.8" r="3.85" fill="#fff" stroke="#960c2c" stroke-width="2.0"/>
<circle cx="226" cy="1095" r="3.85" fill="#fff" stroke="#960c2c" stroke-width="2.0"/>
<circle cx="238.4" cy="1097.7" r="3.85" fill="#fff" stroke="#960c2c" stroke-width="2.0"/>
<circle cx="232.5" cy="1163.8" r="3.85" fill="#fff" stroke="#960c2c" stroke-width="2.0"/>
<circle cx="282.5" cy="1074.5" r="3.85" fill="#fff" stroke="#960c2c" stroke-width="2.0"/>
<circle cx="276.2" cy="1117.5" r="3.85" fill="#fff" stroke="#960c2c" stroke-width="2.0"/>
<circle cx="288.7" cy="1121.2" r="3.85" fill="#fff" stroke="#960c2c" stroke-width="2.0"/>
<circle cx="282.5" cy="1138" r="3.85" fill="#fff" stroke="#960c2c" stroke-width="2.0"/>
<circle cx="325.5" cy="1018.2" r="3.85" fill="#fff" stroke="#5d9c31" stroke-width="1.6"/>
<circle cx="338" cy="1020.7" r="3.85" fill="#fff" stroke="#5d9c31" stroke-width="1.6"/>
<circle cx="338" cy="1033.2" r="3.85" fill="#fff" stroke="#5d9c31" stroke-width="1.6"/>
<circle cx="325.5" cy="1037.5" r="3.85" fill="#fff" stroke="#5d9c31" stroke-width="1.6"/>
<path d="M127.5 1053.7H138.7" stroke="#000" stroke-width="2"/>
<path d="M174.5 1069.2H190" stroke="#000" stroke-width="2"/>
<path d="M224.3 1090H240.7" stroke="#000" stroke-width="2"/>
<path d="M274.2 1100H290.5" stroke="#000" stroke-width="2"/>
<path d="M323.2 1026.2H340" stroke="#000" stroke-width="2"/>
<path d="M131.2 1011H180" stroke="#000" stroke-width="2"/>
<path d="M184.2 1024.7H233.7" stroke="#000" stroke-width="2"/>
<text x="155.6" y="1005" font-size="11" text-anchor="middle" letter-spacing="0.2" font-weight="normal" >ns</text>
<text x="209.6" y="1024.6" font-size="14" text-anchor="middle" letter-spacing="0" font-weight="normal" >*</text>
<text transform="translate(137.2,1179.5) rotate(-45)" font-size="11" text-anchor="end" letter-spacing="0.2">Naives</text>
<text transform="translate(188.5,1180.5) rotate(-45)" font-size="11" text-anchor="end" letter-spacing="0.2">TCM</text>
<text transform="translate(237.3,1180.5) rotate(-45)" font-size="11" text-anchor="end" letter-spacing="0.2">TEM&amp;TeffRO</text>
<text transform="translate(287.8,1179.8) rotate(-45)" font-size="11" text-anchor="end" letter-spacing="0.2">TEMRA&amp;TeffRA</text>
<text transform="translate(336.8,1179.4) rotate(-45)" font-size="11" text-anchor="end" letter-spacing="0.2">Naives</text>
<path d="M112.7 1243.8H283" stroke="#000" stroke-width="2"/>
<path d="M291.5 1243.8H354.6" stroke="#000" stroke-width="2"/>
<text x="196.6" y="1262.3" font-size="11" text-anchor="middle" letter-spacing="0.2" font-weight="normal" >FVIII</text>
<text x="321.4" y="1263.9" font-size="11" text-anchor="middle" letter-spacing="0.2" font-weight="normal" >KLH</text>
</svg>
</body></html>
